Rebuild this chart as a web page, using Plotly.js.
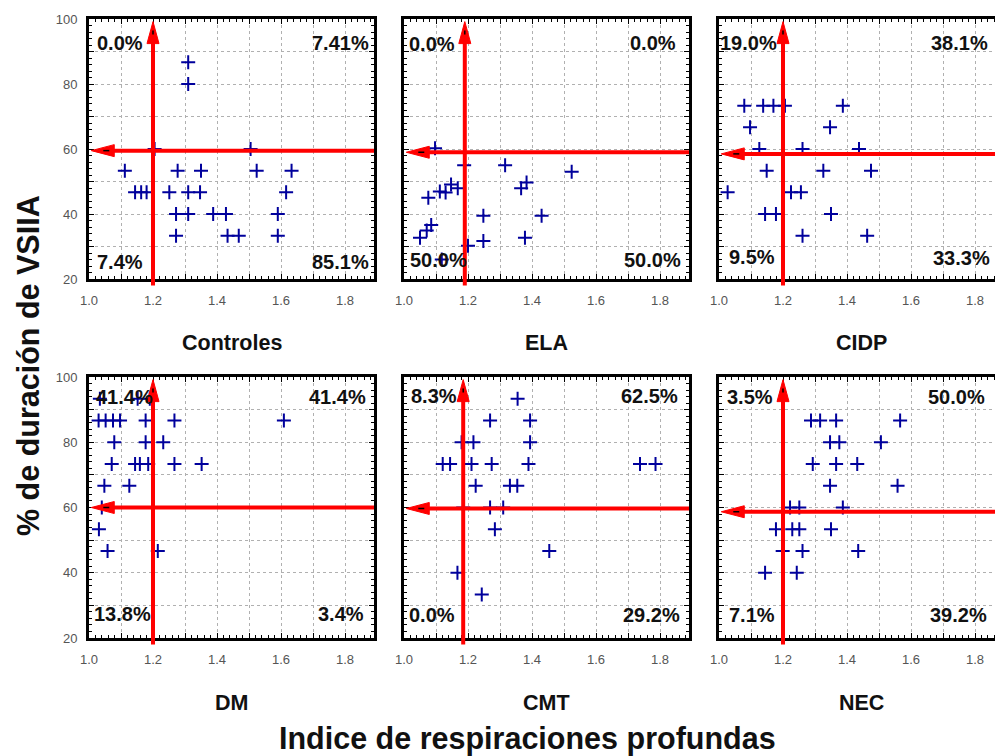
<!DOCTYPE html>
<html>
<head>
<meta charset="utf-8">
<script src="https://cdn.plot.ly/plotly-3.0.1.min.js"></script>
<style>
  html, body { margin: 0; padding: 0; overflow: hidden; background: #ffffff; }
  #chart { width: 1010px; height: 756px; }
</style>
</head>
<body>
<div id="chart"></div>
<script>
// Groups, in panel order (left to right, top to bottom)
const groupNames = ['Controles', 'ELA', 'CIDP', 'DM', 'CMT', 'NEC'];

// Deep-breathing index (x) and % VSIIA duration (y) for each group
const controlesX = [1.31, 1.31, 1.205, 1.505, 1.112, 1.277, 1.35, 1.524, 1.633, 1.144, 1.163, 1.18, 1.251, 1.31, 1.347, 1.616, 1.272, 1.31, 1.388, 1.428, 1.59, 1.272, 1.433, 1.468, 1.59];
const controlesY = [86.7, 80, 60, 60, 53.3, 53.3, 53.3, 53.3, 53.3, 46.7, 46.7, 46.7, 46.7, 46.7, 46.7, 46.7, 40, 40, 40, 40, 40, 33.3, 33.3, 33.3, 33.3];

const elaX = [1.097, 1.188, 1.316, 1.524, 1.076, 1.112, 1.13, 1.147, 1.168, 1.366, 1.383, 1.248, 1.43, 1.05, 1.071, 1.085, 1.2, 1.248, 1.378, 1.118];
const elaY = [60.2, 55, 55, 53, 45, 46.9, 46.6, 49.1, 47.9, 47.9, 49.7, 39.5, 39.5, 32.7, 34.9, 36.6, 30.2, 31.7, 32.7, 26];

const cidpX = [1.079, 1.138, 1.17, 1.206, 1.387, 1.097, 1.347, 1.126, 1.261, 1.4375, 1.149, 1.326, 1.475, 1.027, 1.225, 1.256, 1.144, 1.178, 1.35, 1.261, 1.463];
const cidpY = [73.3, 73.3, 73.3, 73.3, 73.3, 66.7, 66.7, 60, 60, 60, 53.3, 53.3, 53.3, 46.7, 46.7, 46.7, 40, 40, 40, 33.3, 33.3];

const dmX = [1.034, 1.152, 1.19, 1.03, 1.052, 1.075, 1.097, 1.177, 1.267, 1.609, 1.079, 1.177, 1.232, 1.071, 1.144, 1.159, 1.185, 1.267, 1.352, 1.048, 1.126, 1.04, 1.031, 1.058, 1.215];
const dmY = [93.3, 93.3, 93.3, 86.7, 86.7, 86.7, 86.7, 86.7, 86.7, 86.7, 80, 80, 80, 73.3, 73.3, 73.3, 73.3, 73.3, 73.3, 66.7, 66.7, 60, 53.3, 46.7, 46.7];

const cmtX = [1.355, 1.269, 1.394, 1.18, 1.217, 1.394, 1.121, 1.144, 1.211, 1.274, 1.389, 1.7375, 1.786, 1.224, 1.331, 1.354, 1.185, 1.269, 1.31, 1.284, 1.454, 1.167, 1.243];
const cmtY = [93.3, 86.7, 86.7, 80, 80, 80, 73.3, 73.3, 73.3, 73.3, 73.3, 73.3, 73.3, 66.7, 66.7, 66.7, 60, 60, 60, 53.3, 46.7, 40, 33.3];

const necX = [1.2875, 1.316, 1.366, 1.566, 1.347, 1.376, 1.506, 1.293, 1.366, 1.432, 1.347, 1.558, 1.222, 1.251, 1.387, 1.178, 1.229, 1.251, 1.35, 1.199, 1.261, 1.435, 1.144, 1.243];
const necY = [86.7, 86.7, 86.7, 86.7, 80, 80, 80, 73.3, 73.3, 73.3, 66.7, 66.7, 60, 60, 60, 53.3, 53.3, 53.3, 53.3, 46.7, 46.7, 46.7, 40, 40];

// Quadrant percentages: top-left, top-right, bottom-left, bottom-right
const controlesPct = ['0.0%', '7.41%', '7.4%', '85.1%'];
const elaPct       = ['0.0%', '0.0%', '50.0%', '50.0%'];
const cidpPct      = ['19.0%', '38.1%', '9.5%', '33.3%'];
const dmPct        = ['41.4%', '41.4%', '13.8%', '3.4%'];
const cmtPct       = ['8.3%', '62.5%', '0.0%', '29.2%'];
const necPct       = ['3.5%', '50.0%', '7.1%', '39.2%'];

// Cut-off values drawn as red arrows
const cutoffX = [1.2, 1.19, 1.2, 1.2, 1.185, 1.2];
const cutoffY = [59.5, 59.0, 58.5, 60.0, 59.7, 58.7];

// Axis ticks
const xTickVals = [1.0, 1.1, 1.2, 1.3, 1.4, 1.5, 1.6, 1.7, 1.8];
const xTickText = ['1.0', '', '1.2', '', '1.4', '', '1.6', '', '1.8'];
const yTickVals = [20, 30, 40, 50, 60, 70, 80, 90, 100];
const yTickText = ['20', '', '40', '', '60', '', '80', '', '100'];

const seriesX = [controlesX, elaX, cidpX, dmX, cmtX, necX];
const seriesY = [controlesY, elaY, cidpY, dmY, cmtY, necY];
const seriesPct = [controlesPct, elaPct, cidpPct, dmPct, cmtPct, necPct];

// ---- layout geometry (pixels in a 1010 x 756 canvas) ----
const W = 1010, H = 756;
const colLeft = [89, 404, 719];
const panelW = 285;
const rowTop = [19, 377];
const panelH = [260, 261];
const xRange = [1.0, 1.0 + panelW / 320];
const yRange = [20, 100];

// Centre of each quadrant label, offset from the panel's top-left corner
const pctPos = [
  [[31, 24], [251, 24], [31, 243], [251, 243]],
  [[28, 25], [249, 24], [34, 241], [248, 241]],
  [[29, 24], [240, 24], [33, 238], [242, 239]],
  [[35, 20], [248, 20], [33, 237], [252, 237]],
  [[30, 19], [245, 19], [28, 238], [247, 238]],
  [[31, 20], [237, 20], [33, 238], [239, 238]]
];

const font = 'Liberation Sans, Arial, sans-serif';
const RED = '#ff0000';

const traces = [];
const layout = {
  width: W, height: H,
  margin: { l: 0, r: 0, t: 0, b: 0 },
  paper_bgcolor: '#ffffff',
  plot_bgcolor: '#ffffff',
  showlegend: false,
  font: { family: font, color: '#000000' },
  shapes: [],
  annotations: []
};

groupNames.forEach((name, i) => {
  const col = i % 3, row = Math.floor(i / 3);
  const sfx = i === 0 ? '' : String(i + 1);
  const xId = 'x' + sfx, yId = 'y' + sfx;
  const x0 = colLeft[col], y0 = rowTop[row], h = panelH[row];

  traces.push({
    type: 'scatter', mode: 'markers',
    x: seriesX[i], y: seriesY[i],
    xaxis: xId, yaxis: yId,
    marker: { symbol: 'cross-thin', size: 10, color: '#00009c', line: { color: '#00009c', width: 2 } },
    hoverinfo: 'x+y'
  });

  const gridStyle = { showgrid: true, gridcolor: '#b0b0b0', gridwidth: 1, griddash: '3px,3px' };
  layout['xaxis' + sfx] = Object.assign({
    domain: [x0 / W, (x0 + panelW) / W],
    anchor: yId,
    range: xRange,
    tickmode: 'array', tickvals: xTickVals, ticktext: xTickText,
    ticks: 'inside', ticklen: 5, tickwidth: 1, tickcolor: '#000000',
    minor: { tickmode: 'linear', tick0: 1.0, dtick: 0.02, ticks: 'inside', ticklen: 3, tickwidth: 1, tickcolor: '#000000', showgrid: false },
    showline: true, linecolor: '#000000', linewidth: 3, mirror: 'allticks',
    zeroline: false, fixedrange: true,
    ticklabelstandoff: 7,
    tickfont: { family: font, size: 13, color: '#555555' }
  }, gridStyle);
  layout['yaxis' + sfx] = Object.assign({
    domain: [1 - (y0 + h) / H, 1 - y0 / H],
    anchor: xId,
    range: yRange,
    tickmode: 'array', tickvals: yTickVals, ticktext: col === 0 ? yTickText : yTickVals.map(() => ''),
    ticks: 'inside', ticklen: 5, tickwidth: 1, tickcolor: '#000000',
    minor: { tickmode: 'linear', tick0: 20, dtick: 2, ticks: 'inside', ticklen: 3, tickwidth: 1, tickcolor: '#000000', showgrid: false },
    showline: true, linecolor: '#000000', linewidth: 3, mirror: 'allticks',
    zeroline: false, fixedrange: true,
    ticklabelstandoff: 6,
    tickfont: { family: font, size: 13, color: '#555555' }
  }, gridStyle);

  // vertical cut-off: line from just below the axis up to an arrowhead at the top
  layout.shapes.push({
    type: 'line', xref: xId, yref: yId + ' domain',
    x0: cutoffX[i], x1: cutoffX[i], y0: -0.025, y1: 0.93,
    line: { color: RED, width: 4 }
  });
  layout.shapes.push({
    type: 'path', xref: xId, yref: yId + ' domain',
    xsizemode: 'pixel', ysizemode: 'pixel',
    xanchor: cutoffX[i], yanchor: 0.99,
    path: 'M0,0 L-6,-22 L6,-22 Z',
    fillcolor: RED, line: { color: RED, width: 1 }
  });
  layout.shapes.push({
    type: 'line', xref: xId, yref: yId + ' domain',
    xsizemode: 'pixel', ysizemode: 'pixel',
    xanchor: cutoffX[i], yanchor: 0.99,
    x0: 0, x1: 0, y0: -9, y1: -13,
    line: { color: '#000000', width: 1.5 }
  });

  // horizontal cut-off: line from the right edge to an arrowhead at the left
  layout.shapes.push({
    type: 'line', xref: xId + ' domain', yref: yId,
    x0: 1.0, x1: 0.05, y0: cutoffY[i], y1: cutoffY[i],
    line: { color: RED, width: 4 }
  });
  layout.shapes.push({
    type: 'path', xref: xId + ' domain', yref: yId,
    xsizemode: 'pixel', ysizemode: 'pixel',
    xanchor: 0.008, yanchor: cutoffY[i],
    path: 'M0,0 L23,6 L23,-6 Z',
    fillcolor: RED, line: { color: RED, width: 1 }
  });
  layout.shapes.push({
    type: 'line', xref: xId + ' domain', yref: yId,
    xsizemode: 'pixel', ysizemode: 'pixel',
    xanchor: 0.008, yanchor: cutoffY[i],
    x0: 12, x1: 18, y0: 0, y1: 0,
    line: { color: '#000000', width: 1.5 }
  });

  // quadrant percentages
  seriesPct[i].forEach((txt, q) => {
    const [dx, dy] = pctPos[i][q];
    layout.annotations.push({
      xref: 'paper', yref: 'paper',
      x: (x0 + dx) / W, y: 1 - (y0 + dy) / H,
      xanchor: 'center', yanchor: 'middle',
      text: txt, showarrow: false,
      font: { family: font, size: 20, weight: 700, color: '#111111' }
    });
  });

  // group name under the panel
  layout.annotations.push({
    xref: 'paper', yref: 'paper',
    x: (x0 + panelW / 2) / W, y: 1 - (row === 0 ? 343 : 703) / H,
    xanchor: 'center', yanchor: 'middle',
    text: name, showarrow: false,
    font: { family: font, size: 21.5, weight: 700, color: '#111111' }
  });
});

// axis titles
layout.annotations.push({
  xref: 'paper', yref: 'paper', x: 28 / W, y: 1 - 366 / H,
  xanchor: 'center', yanchor: 'middle', textangle: -90,
  text: '% de duración de VSIIA', showarrow: false,
  font: { family: font, size: 30.5, weight: 700, color: '#111111' }
});
layout.annotations.push({
  xref: 'paper', yref: 'paper', x: 527 / W, y: 1 - 738 / H,
  xanchor: 'center', yanchor: 'middle',
  text: 'Indice de respiraciones profundas', showarrow: false,
  font: { family: font, size: 30.5, weight: 700, color: '#111111' }
});

Plotly.newPlot('chart', traces, layout, { displayModeBar: false, staticPlot: true });
</script>
</body>
</html>
